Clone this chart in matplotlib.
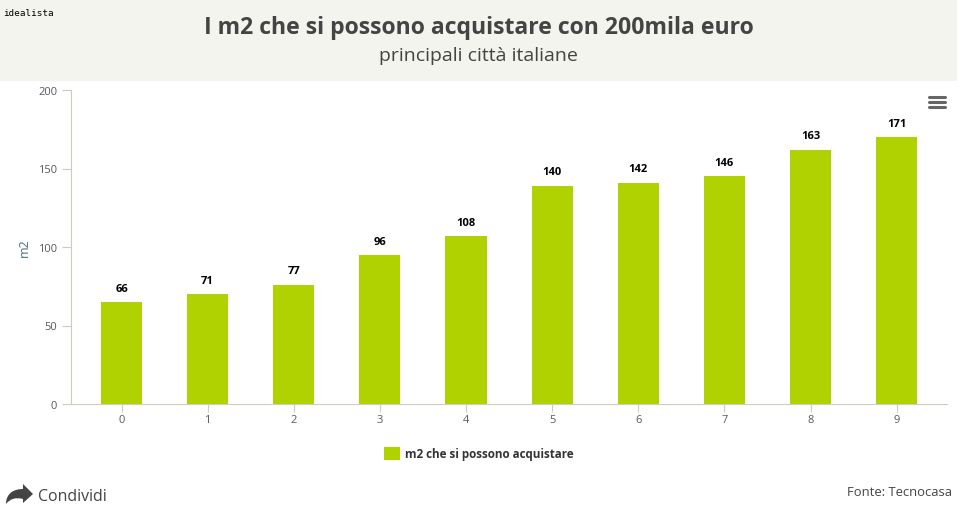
#!/usr/bin/env python3
"""Square metres you can buy with 200k euro, bar chart."""

import matplotlib

matplotlib.use("Agg")
import matplotlib.pyplot as plt
from matplotlib.patches import PathPatch, Rectangle
from matplotlib.path import Path

W, H = 961, 510

CATEGORIES = [0, 1, 2, 3, 4, 5, 6, 7, 8, 9]
VALUES = [66, 71, 77, 96, 108, 140, 142, 146, 163, 171]
# bar tops sit a little under their labels in the source picture
BAR_HEIGHTS = [65, 70, 76, 95, 107, 139, 141, 145, 162, 170]
Y_TICKS = [0, 50, 100, 150, 200]

GREEN = "#b0d200"
AXIS = "#cdcbc2"
TICK_TEXT = "#555a60"
DARK = "#444444"


def px(x, y):
    """Pixel position to figure fraction, y measured from the top."""
    return x / W, 1 - y / H


plt.rcParams["font.family"] = ["Open Sans", "DejaVu Sans"]

fig = plt.figure(figsize=(W / 100, H / 100), dpi=100)
fig.add_artist(Rectangle((0, 1 - 82 / H), 957 / W, 82 / H, transform=fig.transFigure,
                         facecolor="#f3f4ee", edgecolor="none"))

left, right, top, bottom = 70.5, 947, 91, 405
ax = fig.add_axes([left / W, 1 - bottom / H, (right - left) / W, (bottom - top) / H])
ax.patch.set_alpha(0)

ax.bar(CATEGORIES, BAR_HEIGHTS, width=0.477, color=GREEN, zorder=2)
for cat, height, value in zip(CATEGORIES, BAR_HEIGHTS, VALUES):
    ax.annotate(str(value), (cat, height), xytext=(0, 6), textcoords="offset points",
                ha="center", va="bottom", fontsize=8, fontweight="bold", color="black")

ax.set_xlim(-0.593, 9.585)
ax.set_ylim(0, 200)
ax.set_xticks(CATEGORIES)
ax.set_yticks(Y_TICKS)
ax.tick_params(axis="x", length=6, width=0.8, color=AXIS, labelsize=8, labelcolor=TICK_TEXT, pad=1)
ax.tick_params(axis="y", length=6.5, width=0.8, color=AXIS, labelsize=8, labelcolor=TICK_TEXT, pad=3)
ax.set_ylabel("m2", fontsize=9, color="#4d6a7a", labelpad=5)
for side in ("top", "right"):
    ax.spines[side].set_visible(False)
for side in ("left", "bottom"):
    ax.spines[side].set_color(AXIS)
    ax.spines[side].set_linewidth(0.8)

fig.text(*px(3, 13), "idealista", fontsize=6.7, family="DejaVu Sans Mono", color="black",
         ha="left", va="center")
fig.text(*px(478.5, 28.5), "I m2 che si possono acquistare con 200mila euro", fontsize=16.6,
         fontweight="bold", color=DARK, ha="center", va="center")
fig.text(*px(478.5, 56), "principali città italiane", fontsize=14, color=DARK,
         ha="center", va="center")

# legend
fig.add_artist(Rectangle(px(384, 461), 16 / W, 13 / H, transform=fig.transFigure,
                         facecolor=GREEN, edgecolor="none"))
fig.text(*px(405, 454.5), "m2 che si possono acquistare", fontsize=8.4, fontweight="bold",
         color="#333333", ha="left", va="center")

# menu icon
for y in (98, 103, 108):
    fig.add_artist(plt.Line2D([929 / W, 945 / W], [1 - y / H] * 2, color="#666666", lw=2.2,
                              solid_capstyle="round", transform=fig.transFigure))

# share arrow
arrow_pts = [(6, 505), (6, 495), (13, 490), (23, 490), (23, 485), (33, 495), (23, 504),
             (23, 500), (15, 498), (10, 500), (6, 505)]
arrow_codes = [Path.MOVETO, Path.CURVE4, Path.CURVE4, Path.CURVE4, Path.LINETO, Path.LINETO,
               Path.LINETO, Path.LINETO, Path.CURVE4, Path.CURVE4, Path.CURVE4]
fig.add_artist(PathPatch(Path([px(*p) for p in arrow_pts], arrow_codes),
                         transform=fig.transFigure, facecolor=DARK, edgecolor="none"))

fig.text(*px(38, 497), "Condividi", fontsize=11.4, color=DARK, ha="left", va="center")
fig.text(*px(952, 492.5), "Fonte: Tecnocasa", fontsize=9.4, color=DARK, ha="right", va="center")

fig.savefig("out.png", dpi=100)
plt.close(fig)
